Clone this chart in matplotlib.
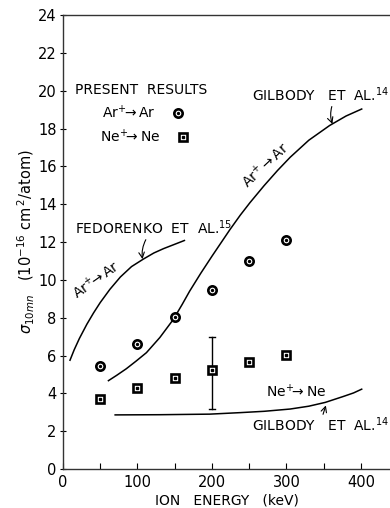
import matplotlib.pyplot as plt
import numpy as np

# measured cross sections, present work
energy = [50, 100, 150, 200, 250, 300]
ar_sigma = [5.45, 6.62, 8.02, 9.47, 11.02, 12.08]
ne_sigma = [3.70, 4.28, 4.80, 5.22, 5.64, 6.03]
ne_err_lo = [3.15]   # error bar at 200 keV
ne_err_hi = [6.98]

# previous measurements (curves)
fed_ar_e = [9.4, 15, 22, 32, 41, 50, 63, 77, 92, 108, 122, 135, 150, 163]
fed_ar_s = [5.75, 6.3, 6.9, 7.65, 8.25, 8.8, 9.5, 10.15, 10.7, 11.1, 11.42, 11.65, 11.88, 12.08]
gil_ar_e = [61, 72, 85, 98, 112, 130, 148, 160, 170, 185, 200, 212, 224, 238,
            251, 270, 288, 305, 330, 358, 380, 401]
gil_ar_s = [4.67, 4.95, 5.3, 5.7, 6.15, 6.95, 7.9, 8.7, 9.4, 10.35, 11.25, 11.95,
            12.65, 13.42, 14.08, 14.98, 15.78, 16.48, 17.38, 18.16, 18.66, 19.03]
gil_ne_e = [70, 130, 197, 238, 270, 305, 330, 352, 376, 390, 401]
gil_ne_s = [2.86, 2.87, 2.90, 2.98, 3.05, 3.17, 3.32, 3.52, 3.83, 4.02, 4.22]

W, H = 390, 508
fig = plt.figure(figsize=(W / 100, H / 100), dpi=100)
ax = fig.add_axes([63 / W, 39 / H, 327 / W, 454 / H])
ax.set_xlim(0, 439)
ax.set_ylim(0, 24)

for s in ['left', 'bottom', 'top']:
    ax.spines[s].set_linewidth(1.0)
    ax.spines[s].set_color('#333333')
ax.spines['right'].set_visible(False)

ax.set_xticks([0, 100, 200, 300, 400])
ax.set_xticks(np.arange(0, 440, 50), minor=True)
ax.set_yticks(np.arange(0, 25, 2))
ax.tick_params(axis='x', which='both', direction='in', length=4, width=0.8,
               labelsize=10.5, pad=4, top=False)
ax.tick_params(axis='y', direction='inout', length=5, width=0.8, labelsize=10.5, pad=2)

lw = 1.1
ax.plot(fed_ar_e, fed_ar_s, color='black', lw=lw)
ax.plot(gil_ar_e, gil_ar_s, color='black', lw=lw)
ax.plot(gil_ne_e, gil_ne_s, color='black', lw=lw)

# error bar on the 200 keV neon point
ax.plot([200, 200], [ne_err_lo[0], ne_err_hi[0]], color='black', lw=1.0)
for yv in (ne_err_lo[0], ne_err_hi[0]):
    ax.plot([196, 204], [yv, yv], color='black', lw=1.0)

def ring(x, y):
    ax.plot(x, y, 'o', ms=6, mfc='white', mec='black', mew=1.9, ls='none', zorder=5)
    ax.plot(x, y, 'o', ms=1.4, mfc='black', mec='black', ls='none', zorder=6)

def box(x, y):
    ax.plot(x, y, 's', ms=6.3, mfc='white', mec='black', mew=1.9, ls='none', zorder=5)
    ax.plot(x, y, 's', ms=1.5, mfc='black', mec='black', ls='none', zorder=6)

ring(energy, ar_sigma)
box(energy, ne_sigma)

fs = 10
ax.text(16, 20.05, 'PRESENT  RESULTS', fontsize=fs, va='center')
ax.text(52, 18.84, r'Ar$^{+}\!\!\rightarrow$Ar', fontsize=fs, va='center')
ax.text(50, 17.57, r'Ne$^{+}\!\!\rightarrow$Ne', fontsize=fs, va='center')
ring([155], [18.84])
box([161], [17.57])

ax.text(254, 19.8, r'GILBODY   ET  AL.$^{14}$', fontsize=fs, va='center')
ax.annotate('', xy=(363, 18.1), xytext=(362, 19.3),
            arrowprops=dict(arrowstyle='->', lw=0.8, color='black',
                            connectionstyle='arc3,rad=0.2'))
ax.text(272, 16.05, r'Ar$^{+}\rightarrow$Ar', fontsize=fs, rotation=43,
        ha='center', va='center')

ax.text(16, 12.75, r'FEDORENKO  ET  AL.$^{15}$', fontsize=fs, va='center')
ax.annotate('', xy=(107.4, 10.95), xytext=(113, 12.25),
            arrowprops=dict(arrowstyle='->', lw=0.8, color='black',
                            connectionstyle='arc3,rad=0.2'))
ax.text(45, 10.0, r'Ar$^{+}\!\!\rightarrow$Ar', fontsize=fs, rotation=35,
        ha='center', va='center')

ax.text(313, 4.07, r'Ne$^{+}\!\!\rightarrow$Ne', fontsize=fs, ha='center', va='center')
ax.text(254, 2.33, r'GILBODY   ET  AL.$^{14}$', fontsize=fs, va='center')
ax.annotate('', xy=(354, 3.5), xytext=(348, 2.75),
            arrowprops=dict(arrowstyle='->', lw=0.8, color='black'))

ax.set_xlabel('ION   ENERGY   (keV)', fontsize=fs, labelpad=3)
ax.set_ylabel(r'$\sigma_{10mn}$   $(10^{-16}\ \mathrm{cm}^{\,2}/\mathrm{atom})$',
              fontsize=10.5, labelpad=1)

fig.savefig('out.png', dpi=100)
